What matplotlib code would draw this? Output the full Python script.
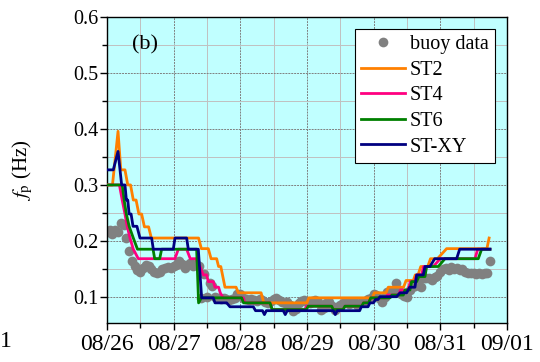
import numpy as np
import matplotlib
matplotlib.use("Agg")
import matplotlib.pyplot as plt
from matplotlib.ticker import MultipleLocator

plt.rcParams['font.family'] = ['Liberation Serif', 'DejaVu Serif']
plt.rcParams['mathtext.fontset'] = 'stix'

# x tick labels (one per day, hours since 08/26 00:00)
day_labels = ["08/26", "08/27", "08/28", "08/29", "08/30", "08/31", "09/01"]
day_hours = [0, 24, 48, 72, 96, 120, 144]

# buoy data, hourly from 08/26 00:00
buoy_fp = [
    0.215, 0.220, 0.212, 0.220, 0.215, 0.232, 0.228, 0.205, 0.182, 0.163,
    0.155, 0.148, 0.145, 0.152, 0.157, 0.155, 0.150, 0.145, 0.143, 0.145,
    0.150, 0.152, 0.154, 0.152, 0.155, 0.157, 0.163, 0.158, 0.152, 0.157,
    0.160, 0.155, 0.158, 0.155, 0.098, 0.140, 0.100, 0.125, 0.120, 0.100,
    0.097, 0.095, 0.098, 0.096, 0.094, 0.095, 0.098, 0.104, 0.105, 0.097,
    0.095, 0.094, 0.096, 0.094, 0.093, 0.095, 0.094, 0.090, 0.088, 0.092,
    0.095, 0.097, 0.094, 0.090, 0.088, 0.090, 0.085, 0.075, 0.078, 0.088,
    0.092, 0.094, 0.090, 0.088, 0.092, 0.094, 0.090, 0.076, 0.079, 0.088,
    0.090, 0.083, 0.077, 0.082, 0.086, 0.088, 0.090, 0.087, 0.088, 0.090,
    0.086, 0.088, 0.090, 0.093, 0.095, 0.098, 0.104, 0.103, 0.097, 0.090,
    0.100, 0.108, 0.107, 0.110, 0.124, 0.110, 0.105, 0.101, 0.100, 0.112,
    0.118, 0.120, 0.127, 0.118, 0.133, 0.134, 0.133, 0.130, 0.135, 0.137,
    0.145, 0.150, 0.152, 0.148, 0.154, 0.150, 0.152, 0.148, 0.150, 0.145,
    0.142, 0.143, 0.142, 0.141, 0.142, 0.141, 0.142, 0.142, 0.163,
]
buoy_h = np.arange(len(buoy_fp))

# model runs: corner points of the step lines (hour, fp)
st2_h = [0, 2, 4, 5, 6.5, 7.5, 8.5, 9.5, 10.5, 11.5,
         12.5, 13.5, 15, 16, 33, 34, 36.5, 37.5, 39.5, 40.2,
         41, 42.5, 46.5, 47.3, 55.5, 56.5, 72, 72.7, 95.5, 96.3,
         100.5, 101.3, 106.8, 107.7, 110.3, 111, 112, 113, 115.5, 116.5,
         119, 122.3, 136.8, 137.6]
st2_v = [0.300, 0.300, 0.396, 0.327, 0.327, 0.300, 0.300, 0.273, 0.273, 0.248,
         0.248, 0.225, 0.225, 0.205, 0.205, 0.186, 0.186, 0.168, 0.168, 0.154,
         0.154, 0.117, 0.117, 0.107, 0.107, 0.089, 0.089, 0.098, 0.098, 0.107,
         0.107, 0.117, 0.117, 0.129, 0.129, 0.139, 0.139, 0.154, 0.154, 0.168,
         0.168, 0.186, 0.186, 0.205]

st4_h = [0, 4.5, 5.5, 6.5, 7.3, 8.3, 9.5, 11.3, 24.5, 25.7,
         28.7, 30, 32, 33.5, 34.7, 35.9, 36.5, 38.3, 38.9, 40.2,
         40.8, 41.9, 49.1, 49.7, 58.7, 59.5, 71.2, 71.9, 80.9, 81.5,
         85, 85.7, 91.7, 92.4, 94.2, 95, 100.3, 101, 105, 105.7,
         108.5, 109.2, 110.8, 111.5, 113.3, 114, 117.5, 120, 132.5, 133.5,
         137.9]
st4_v = [0.300, 0.300, 0.273, 0.248, 0.226, 0.205, 0.185, 0.168, 0.168, 0.185,
         0.185, 0.168, 0.168, 0.154, 0.139, 0.139, 0.127, 0.127, 0.117, 0.117,
         0.107, 0.098, 0.098, 0.089, 0.089, 0.077, 0.077, 0.083, 0.083, 0.077,
         0.077, 0.083, 0.083, 0.089, 0.089, 0.098, 0.098, 0.103, 0.103, 0.112,
         0.112, 0.127, 0.127, 0.139, 0.139, 0.154, 0.154, 0.168, 0.168, 0.185,
         0.185]

st6_h = [0, 5.5, 6.2, 7, 8, 9.5, 11, 16.6, 17.2, 19,
         19.7, 32.3, 33, 34, 48.5, 49.2, 58.7, 59.5, 71.8, 72.5,
         80.9, 81.5, 85, 85.7, 91.7, 92.4, 94.2, 95, 101.9, 102.6,
         106.7, 107.3, 109.1, 109.7, 111.5, 112.3, 114.5, 115.1, 119.3, 121.7,
         133.7, 134.9, 137.9]
st6_v = [0.300, 0.300, 0.273, 0.248, 0.226, 0.205, 0.185, 0.185, 0.168, 0.168,
         0.185, 0.185, 0.089, 0.098, 0.098, 0.089, 0.089, 0.077, 0.077, 0.083,
         0.083, 0.077, 0.077, 0.083, 0.083, 0.089, 0.089, 0.098, 0.098, 0.103,
         0.103, 0.112, 0.112, 0.127, 0.127, 0.136, 0.136, 0.154, 0.154, 0.168,
         0.168, 0.185, 0.185]

stxy_h = [0, 2.3, 4, 5.3, 6.5, 7, 7.5, 8, 8.7, 9.4,
          10.8, 11.9, 16.1, 16.7, 23.9, 24.5, 28.7, 29.3, 32.9, 34.1,
          38.3, 38.9, 43.1, 44.3, 52.7, 53.5, 56, 56.7, 57.4, 63.5,
          64.2, 64.9, 81.5, 82.2, 82.9, 91, 91.6, 94, 94.7, 96,
          96.7, 97.6, 98.3, 104.3, 105.5, 107.9, 109, 110.9, 111.5, 113.9,
          114.5, 116.3, 118, 125.9, 127, 137.9]
stxy_v = [0.327, 0.327, 0.360, 0.300, 0.300, 0.273, 0.273, 0.248, 0.248, 0.226,
          0.226, 0.205, 0.205, 0.185, 0.185, 0.205, 0.205, 0.185, 0.185, 0.098,
          0.098, 0.089, 0.089, 0.082, 0.082, 0.075, 0.075, 0.068, 0.075, 0.075,
          0.068, 0.075, 0.075, 0.068, 0.075, 0.075, 0.082, 0.082, 0.089, 0.089,
          0.095, 0.095, 0.100, 0.100, 0.107, 0.107, 0.117, 0.117, 0.139, 0.139,
          0.154, 0.154, 0.168, 0.168, 0.185, 0.185]

fig = plt.figure(figsize=(5.4, 3.62), dpi=100)
ax = fig.add_axes([0.198, 0.1086, 0.7407, 0.8436])
ax.set_facecolor('#C0FFFF')

ax.plot(buoy_h, buoy_fp, 'o', color='#808080', ms=7, mec='none',
        label='buoy data', zorder=2)
ax.plot(st2_h, st2_v, color='#FF8000', lw=2, label='ST2', zorder=3)
ax.plot(st4_h, st4_v, color='#FF0080', lw=2, label='ST4', zorder=3)
ax.plot(st6_h, st6_v, color='#008000', lw=2, label='ST6', zorder=3)
ax.plot(stxy_h, stxy_v, color='#000080', lw=2, label='ST-XY', zorder=3)

ax.set_xlim(0, 144)
ax.set_ylim(0.0535, 0.6)
ax.set_xticks(day_hours)
ax.set_xticklabels(day_labels)
ax.xaxis.set_minor_locator(MultipleLocator(12))
ax.yaxis.set_minor_locator(MultipleLocator(0.05))
ax.set_yticks([0.1, 0.2, 0.3, 0.4, 0.5, 0.6])
ax.set_yticklabels(["0.1", "0.2", "0.3", "0.4", "0.5", "0.6"])

ax.tick_params(axis='x', which='both', direction='out', labelsize=17, pad=3)
ax.tick_params(axis='y', which='both', direction='out', labelsize=14.5, pad=1)
ax.tick_params(which='major', length=5, width=1)
ax.tick_params(which='minor', length=3.5, width=1)

ax.grid(which='major', color='#808080', lw=0.7, ls=(0, (2, 1)))
ax.grid(which='minor', color='#c0c0c0', lw=0.7)
ax.set_axisbelow(True)
for s in ax.spines.values():
    s.set_linewidth(1)

ax.set_ylabel(r'$f_\mathrm{p}$ (Hz)', fontsize=15)
ax.yaxis.set_label_coords(-0.18, 0.5)

ax.text(0.0625, 0.91, '(b)', transform=ax.transAxes, fontsize=16,
        ha='left', va='center')

leg = ax.legend(loc='upper right', bbox_to_anchor=(0.97, 0.961),
                borderaxespad=0, fancybox=False, edgecolor='black',
                framealpha=1, fontsize=14.5, handlelength=2.2,
                handletextpad=0.25, labelspacing=0.32, borderpad=0.3,
                numpoints=1)
leg.get_frame().set_linewidth(0.8)

# clipped label from the neighbouring panel
fig.text(0.0, 0.058, '1', fontsize=17, ha='left', va='center')

fig.savefig('out.png', dpi=100)
